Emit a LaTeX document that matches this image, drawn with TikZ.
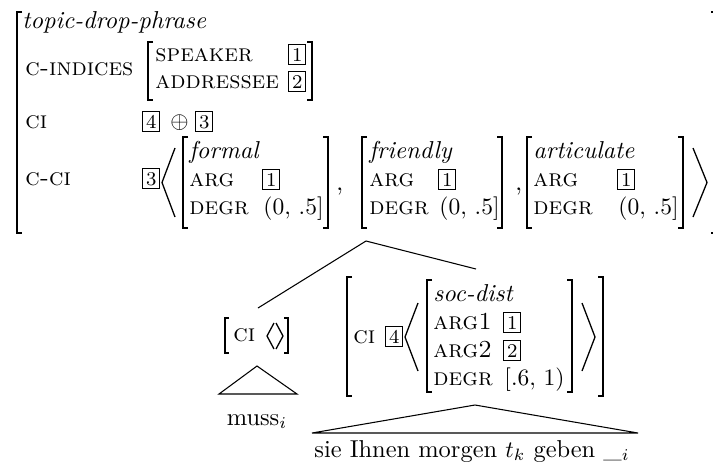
\documentclass[tikz,border=0pt]{standalone}
\usepackage{amsmath}
\newcommand{\avmbox}[1]{{\setlength{\fboxsep}{1.2pt}\setlength{\fboxrule}{0.4pt}\fbox{\fontsize{8.3}{10}\selectfont #1}}}
\newcommand{\lbrk}[4][5]{\draw[brk] (#2+#1,#3) -- (#2,#3) -- (#2,#4) -- (#2+#1,#4);}
\newcommand{\rbrk}[4][5]{\draw[brk] (#2-#1,#3) -- (#2,#3) -- (#2,#4) -- (#2-#1,#4);}
\begin{document}
\begin{tikzpicture}[x=0.4255pt,y=-0.4255pt,
  every node/.append style={font=\fontsize{10.4}{12.5}\selectfont},
  txt/.style={inner sep=0pt, anchor=base west},
  ctr/.style={inner sep=0pt, anchor=base},
  brk/.style={line width=0.55pt},
  edge/.style={line width=0.45pt}]
\useasboundingbox (0,0) rectangle (713,472);
% ---------- top AVM ----------
\lbrk{17}{12}{233}
\rbrk[7]{718}{12}{233}
\node[txt] (tdp) at (22,28) {\textit{topic-drop-phrase}};
\node[txt] (cind) at (25,75) {\textsc{c-indices}};
\lbrk{148}{42}{100}
\rbrk{312}{42}{100}
\node[txt] (spk) at (155,61) {\textsc{speaker}};
\node[txt] (spkv) at (288,61) {\avmbox{1}};
\node[txt] (adr) at (155,88) {\textsc{addressee}};
\node[txt] (adrv) at (288,88) {\avmbox{2}};
\node[txt] (ci) at (25,128) {\textsc{ci}};
\node[txt] (civa) at (142,128) {\avmbox{4}};
\node[txt] (civo) at (170,128) {$\oplus$};
\node[txt] (civb) at (195,128) {\avmbox{3}};
\node[txt] (cci) at (25,185) {\textsc{c-ci}};
\node[txt] (ccib) at (142,185) {\avmbox{3}};
\draw[brk] (175,148) -- (162,182.5) -- (175,217);
% formal
\lbrk{183}{137}{228}
\rbrk{328}{137}{228}
\node[txt] (fo) at (189,158) {\textit{formal}};
\node[txt] (foa) at (189,186) {\textsc{arg}};
\node[txt] (foav) at (262,186) {\avmbox{1}};
\node[txt] (fod) at (189,214) {\textsc{degr}};
\node[txt] (fodv) at (263,214) {$(0,\,.5]$};
\node[txt] (c1) at (336,190) {,};
% friendly
\lbrk{362}{137}{228}
\rbrk{502}{137}{228}
\node[txt] (fr) at (369,158) {\textit{friendly}};
\node[txt] (fra) at (369,186) {\textsc{arg}};
\node[txt] (frav) at (438,186) {\avmbox{1}};
\node[txt] (frd) at (369,214) {\textsc{degr}};
\node[txt] (frdv) at (439,214) {$(0,\,.5]$};
\node[txt] (c2) at (515,190) {,};
% articulate
\lbrk{527}{137}{228}
\rbrk{683}{137}{228}
\node[txt] (ar) at (533,158) {\textit{articulate}};
\node[txt] (ara) at (533,186) {\textsc{arg}};
\node[txt] (arav) at (617,186) {\avmbox{1}};
\node[txt] (ard) at (533,214) {\textsc{degr}};
\node[txt] (ardv) at (618,214) {$(0,\,.5]$};
\draw[brk] (693,148) -- (707,182.5) -- (693,217);
% ---------- tree ----------
\coordinate (apex) at (366,241);
\coordinate (lend) at (258,308);
\coordinate (rend) at (476,269);
\draw[edge] (apex) -- (lend);
\draw[edge] (apex) -- (rend);
% left daughter
\lbrk[4]{225}{318}{353}
\rbrk[4]{288}{318}{353}
\node[txt] (lci) at (233,341) {\textsc{ci}};
\draw[brk] (274,323) -- (267,336) -- (274,349);
\draw[brk] (276,323) -- (283,336) -- (276,349);
\draw[edge] (257,366) -- (219,394) -- (297,394) -- cycle;
\node[ctr] (muss) at (257,425) {muss$_i$};
% right daughter
\lbrk{347}{277}{396}
\rbrk{603}{277}{396}
\node[txt] (rci) at (353,343) {\textsc{ci}};
\node[txt] (rciv) at (385,343) {\avmbox{4}};
\draw[brk] (418,303) -- (405,337) -- (418,371);
\lbrk{427}{280}{392}
\rbrk{572}{280}{392}
\node[txt] (sd) at (433,301) {\textit{soc-dist}};
\node[txt] (a1) at (433,329) {\textsc{arg1}};
\node[txt] (a1v) at (503,329) {\avmbox{1}};
\node[txt] (a2) at (433,357) {\textsc{arg2}};
\node[txt] (a2v) at (503,357) {\avmbox{2}};
\node[txt] (dg) at (433,385) {\textsc{degr}};
\node[txt] (dgv) at (504,385) {$[.6,\,1)$};
\draw[brk] (582,303) -- (595,337) -- (582,371);
\draw[edge] (475,405) -- (312,433) -- (638,433) -- cycle;
\node[ctr] (sent) at (472,457) {sie Ihnen morgen $t_k$ geben \_$_i$};
\end{tikzpicture}
\end{document}
